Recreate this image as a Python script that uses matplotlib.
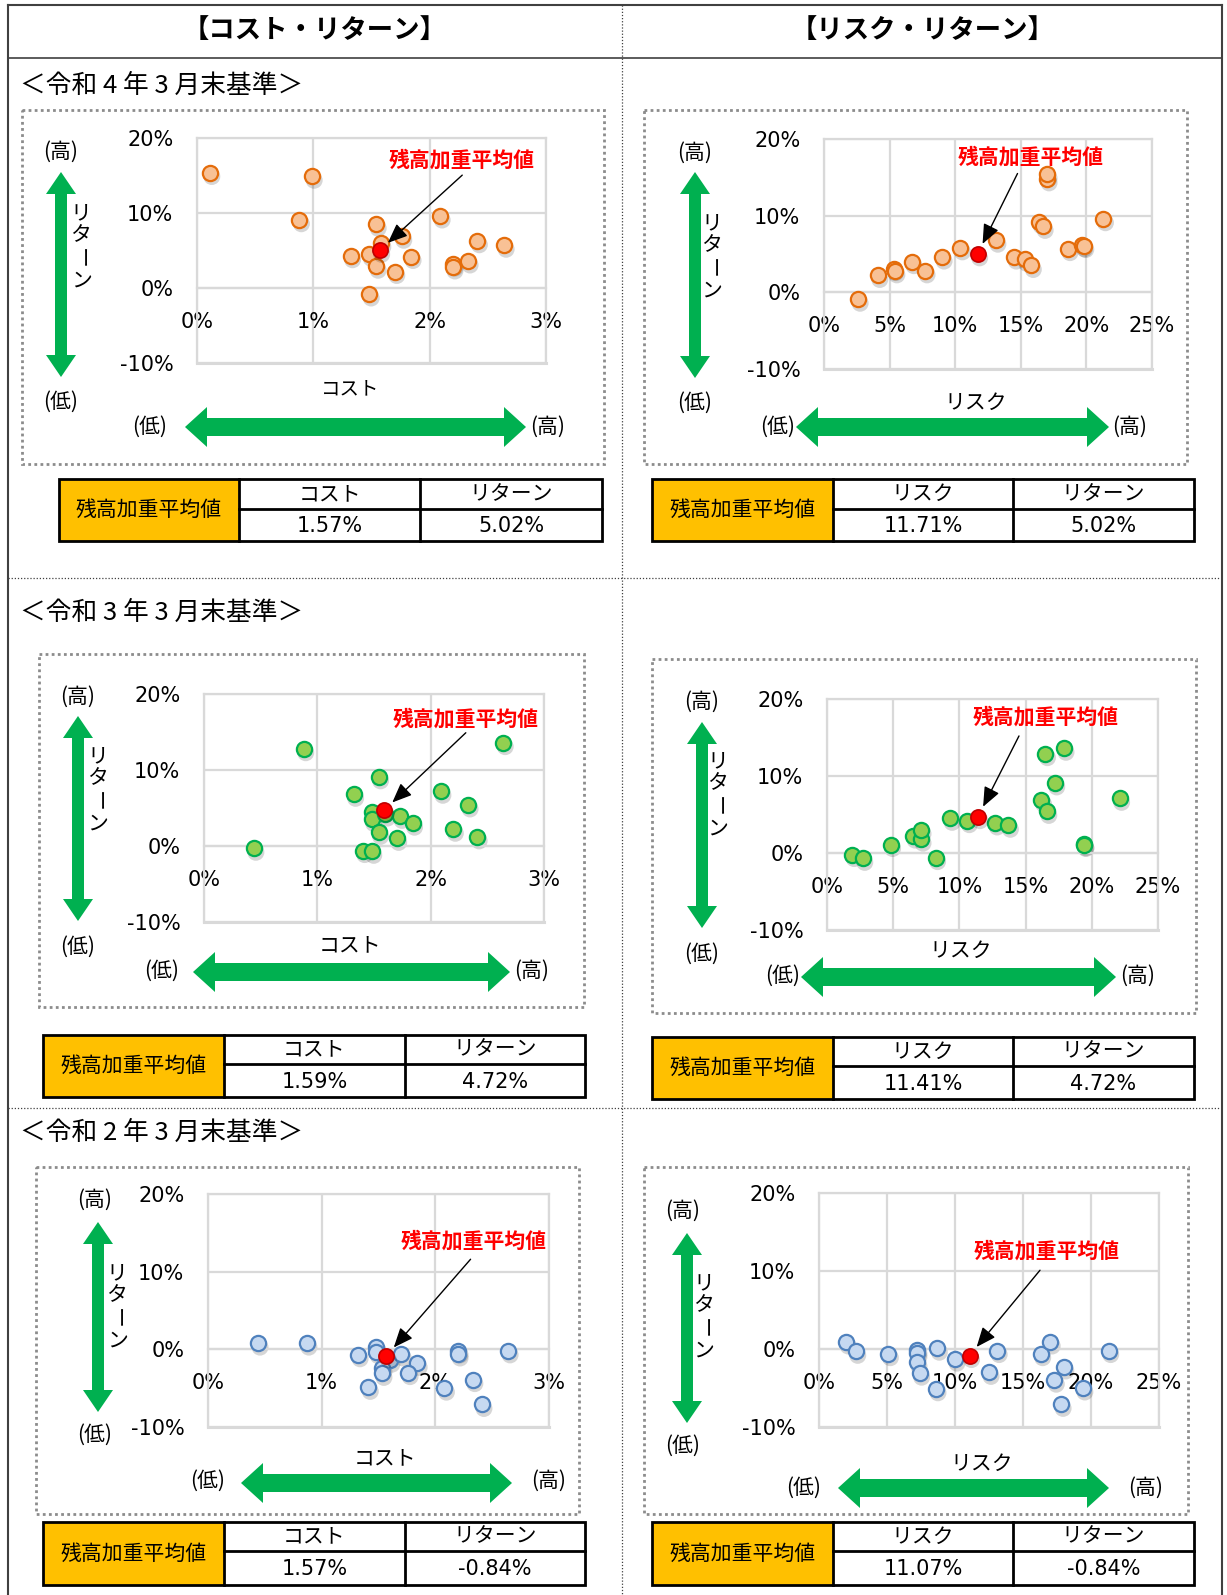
import matplotlib
matplotlib.use("Agg")
import matplotlib.pyplot as plt
from matplotlib.patches import Rectangle, Polygon
from matplotlib.transforms import offset_copy

plt.rcParams['font.family'] = ['DejaVu Sans', 'Noto Sans CJK JP']
JP = ['Noto Sans CJK JP', 'DejaVu Sans']

# ---------------- data ----------------
header_titles = ['【コスト・リターン】', '【リスク・リターン】']
section_titles = ['＜令和 4 年 3 月末基準＞', '＜令和 3 年 3 月末基準＞', '＜令和 2 年 3 月末基準＞']

cost_ticks = ['0%', '1%', '2%', '3%']
risk_ticks = ['0%', '5%', '10%', '15%', '20%', '25%']
ret_ticks = ['-10%', '0%', '10%', '20%']

# R4 (令和4年3月末)
r4_cost = [0.11, 0.99, 0.88, 1.54, 2.09, 1.76, 1.58, 1.48, 1.32, 1.54, 1.70, 1.84, 2.20, 2.20, 2.33, 2.41, 2.64, 1.48]
r4_cost_ret = [15.4, 14.9, 9.1, 8.5, 9.6, 6.9, 6.0, 4.5, 4.3, 2.9, 2.2, 4.2, 3.2, 2.8, 3.6, 6.3, 5.7, -0.8]
r4_risk = [2.6, 4.1, 5.3, 5.4, 6.7, 7.7, 9.0, 10.4, 13.1, 14.5, 15.3, 15.8, 16.4, 16.7, 17.0, 17.0, 18.6, 19.7, 19.8, 21.3]
r4_risk_ret = [-0.9, 2.2, 3.1, 2.8, 4.0, 2.8, 4.6, 5.8, 6.8, 4.6, 4.3, 3.5, 9.2, 8.6, 14.8, 15.4, 5.7, 6.2, 6.1, 9.6]
r4_avg_cost, r4_avg_risk, r4_avg_ret = 1.57, 11.71, 5.02

# R3 (令和3年3月末)
r3_cost = [0.88, 2.64, 1.54, 1.32, 2.09, 2.33, 1.48, 1.48, 1.60, 1.73, 1.84, 1.54, 1.70, 2.20, 2.41, 0.44, 1.40, 1.48]
r3_cost_ret = [12.8, 13.6, 9.1, 6.8, 7.2, 5.4, 4.5, 3.5, 4.2, 3.9, 3.0, 1.8, 1.0, 2.2, 1.2, -0.3, -0.6, -0.7]
r3_risk = [1.9, 2.7, 4.8, 6.5, 7.1, 7.1, 8.2, 9.3, 10.6, 12.7, 13.7, 16.5, 17.9, 17.2, 16.2, 16.6, 19.4, 19.4, 22.1]
r3_risk_ret = [-0.2, -0.7, 1.1, 2.2, 1.8, 3.0, -0.6, 4.5, 4.2, 3.9, 3.6, 12.9, 13.6, 9.1, 6.9, 5.4, 1.2, 1.1, 7.1]
r3_avg_cost, r3_avg_risk, r3_avg_ret = 1.59, 11.41, 4.72

# R2 (令和2年3月末)
r2_cost = [0.44, 0.87, 1.32, 1.48, 1.48, 1.60, 1.70, 1.53, 1.53, 1.84, 1.76, 1.41, 2.08, 2.20, 2.20, 2.33, 2.64, 2.41]
r2_cost_ret = [0.8, 0.8, -0.7, 0.3, -0.3, -1.4, -0.6, -2.4, -3.1, -1.8, -3.0, -4.9, -5.0, -0.2, -0.6, -3.9, -0.2, -7.1]
r2_risk = [2.0, 2.7, 5.1, 7.2, 7.2, 7.2, 7.4, 8.7, 8.6, 10.0, 12.5, 13.1, 16.3, 17.0, 18.0, 17.3, 19.4, 21.3, 17.8]
r2_risk_ret = [0.9, -0.3, -0.6, -0.1, -0.5, -1.7, -3.1, 0.1, -5.1, -1.3, -3.0, -0.2, -0.6, 0.9, -2.3, -4.0, -5.0, -0.2, -7.1]
r2_avg_cost, r2_avg_risk, r2_avg_ret = 1.57, 11.07, -0.84

avg_label = '残高加重平均値'

# ---------------- figure ----------------
W, H = 1227, 1595
fig = plt.figure(figsize=(W / 100, H / 100), dpi=100)
bg = fig.add_axes([0, 0, 1, 1])
bg.set_xlim(0, W)
bg.set_ylim(H, 0)
bg.axis('off')

GREEN = '#00B050'
GRID = '#D9D9D9'

# outer frame & dividers
bg.plot([8, 1222], [5, 5], color='#404040', lw=1.5)
bg.plot([8, 8], [5, H], color='#404040', lw=1.5)
bg.plot([1222, 1222], [5, H], color='#404040', lw=1.5)
bg.plot([8, 1222], [58, 58], color='#404040', lw=1.2)
bg.plot([622, 622], [5, H], color='#404040', lw=0.9, ls=(0, (1, 1.5)))
for yy in (578, 1108):
    bg.plot([8, 1222], [yy, yy], color='#404040', lw=0.9, ls=(0, (1, 1.5)))

bg.text(315, 30, header_titles[0], ha='center', va='center', fontsize=19, fontweight='bold', family=JP)
bg.text(923, 30, header_titles[1], ha='center', va='center', fontsize=19, fontweight='bold', family=JP)

for ty, t in zip((86, 613, 1133), section_titles):
    bg.text(20, ty, t, ha='left', va='center', fontsize=18.5, family=JP)


def dotted_box(x0, y0, x1, y1):
    bg.add_patch(Rectangle((x0, y0), x1 - x0, y1 - y0, fill=False, ec='#8C8C8C',
                           lw=2, ls=(0, (1, 1.2))))


def h_arrow(x0, x1, y, hs=9, hh=20, hl=22):
    pts = [(x0, y), (x0 + hl, y - hh), (x0 + hl, y - hs), (x1 - hl, y - hs), (x1 - hl, y - hh),
           (x1, y), (x1 - hl, y + hh), (x1 - hl, y + hs), (x0 + hl, y + hs), (x0 + hl, y + hh)]
    bg.add_patch(Polygon(pts, closed=True, fc=GREEN, ec='none'))


def v_arrow(x, y0, y1, hs=6, hh=15, hl=22):
    pts = [(x, y0), (x + hh, y0 + hl), (x + hs, y0 + hl), (x + hs, y1 - hl), (x + hh, y1 - hl),
           (x, y1), (x - hh, y1 - hl), (x - hs, y1 - hl), (x - hs, y0 + hl), (x - hh, y0 + hl)]
    bg.add_patch(Polygon(pts, closed=True, fc=GREEN, ec='none'))


def v_text(x, y0, step=22.5):
    chars = ['リ', 'タ', 'ー', 'ン']
    for i, c in enumerate(chars):
        rot = -90 if c == 'ー' else 0
        bg.text(x, y0 + i * step, c, ha='center', va='center', fontsize=15, rotation=rot, family=JP)


def label(x, y, s, size=15):
    bg.text(x, y, s, ha='center', va='center', fontsize=size, family=JP)


def table(x0, y0, x1, y1, ysplit, c1, c2, col_names, values):
    bg.add_patch(Rectangle((x0, y0), c1 - x0, y1 - y0, fc='#FFC000', ec='none'))
    bg.add_patch(Rectangle((x0, y0), x1 - x0, y1 - y0, fill=False, ec='black', lw=2))
    bg.plot([c1, c1], [y0, y1], color='black', lw=2)
    bg.plot([c2, c2], [y0, y1], color='black', lw=2)
    bg.plot([c1, x1], [ysplit, ysplit], color='black', lw=2)
    label((x0 + c1) / 2, (y0 + y1) / 2, avg_label)
    label((c1 + c2) / 2, (y0 + ysplit) / 2, col_names[0])
    label((c2 + x1) / 2, (y0 + ysplit) / 2, col_names[1])
    bg.text((c1 + c2) / 2, (ysplit + y1) / 2 + 1, values[0], ha='center', va='center', fontsize=15)
    bg.text((c2 + x1) / 2, (ysplit + y1) / 2 + 1, values[1], ha='center', va='center', fontsize=15)


def scatter_panel(box, xmax, xstep, xlabels, xs, ys, ax_avg, ay_avg, fc, ec, lab_pos, tail_pos):
    x0, x1, yt, yb = box
    ax = fig.add_axes([x0 / W, 1 - yb / H, (x1 - x0) / W, (yb - yt) / H])
    ax.set_xlim(0, xmax)
    ax.set_ylim(-10, 20)
    ax.set_xticks([i * xstep for i in range(len(xlabels))])
    ax.set_xticklabels(xlabels)
    ax.set_yticks([-10, 0, 10, 20])
    ax.set_yticklabels(ret_ticks)
    ax.grid(True, color=GRID, lw=1.6)
    ax.set_axisbelow(True)
    ax.spines['bottom'].set_position(('data', 0))
    for s in ax.spines.values():
        s.set_color(GRID)
        s.set_linewidth(1.6)
    ax.axhline(-10, color=GRID, lw=2.2, clip_on=False, zorder=0.5)
    ax.tick_params(axis='x', length=0, pad=17, labelsize=15)
    ax.tick_params(axis='y', length=0, pad=17, labelsize=15)
    for t in ax.get_xticklabels() + ax.get_yticklabels():
        t.set_zorder(5)
    sh = offset_copy(ax.transData, fig=fig, x=2, y=-4, units='dots')
    ax.scatter(xs, ys, s=150, c='black', alpha=0.16, edgecolors='none', transform=sh, zorder=2, clip_on=False)
    ax.scatter(xs, ys, s=120, c=fc, edgecolors=ec, linewidths=1.6, zorder=3, clip_on=False)
    ax.scatter([ax_avg], [ay_avg], s=150, c='black', alpha=0.16, edgecolors='none', transform=sh, zorder=3.5)
    ax.scatter([ax_avg], [ay_avg], s=120, c='#FF0000', edgecolors='#C00000', linewidths=1.2, zorder=4)
    ax.text(lab_pos[0], lab_pos[1], avg_label, transform=ax.transAxes, ha='center', va='center',
            color='#FF0000', fontsize=15, fontweight='bold', zorder=6, family=JP)
    ax.annotate('', xy=(ax_avg, ay_avg), xycoords='data', xytext=tail_pos, textcoords='axes fraction',
                arrowprops=dict(arrowstyle='-|>,head_length=1.2,head_width=0.5', color='black',
                                lw=1, shrinkA=0, shrinkB=8), zorder=6)
    return ax


ORANGE = ('#F8C195', '#E46C0A')
GREENP = ('#92D050', '#00B050')
BLUE = ('#C6D9F1', '#4F81BD')

# ---------- Section 1 ----------
dotted_box(22, 110, 604, 464)
label(61, 152, '(高)')
label(61, 402, '(低)')
v_arrow(61, 172, 377)
v_text(81, 213)
label(350, 389, 'コスト', 14)
h_arrow(185, 526, 427)
label(150, 427, '(低)')
label(548, 427, '(高)')
scatter_panel((197, 546, 138, 363), 3, 1, cost_ticks, r4_cost, r4_cost_ret, r4_avg_cost, r4_avg_ret,
              *ORANGE, (0.76, 0.90), (0.76, 0.835))
table(59, 479, 602, 541, 509, 239, 420, ['コスト', 'リターン'], ['1.57%', '5.02%'])

dotted_box(644, 110, 1187, 464)
label(695, 153, '(高)')
label(695, 403, '(低)')
v_arrow(695, 172, 378)
v_text(712, 223)
label(976, 403, 'リスク')
h_arrow(796, 1109, 427)
label(778, 427, '(低)')
label(1130, 427, '(高)')
scatter_panel((824, 1152, 139, 369), 25, 5, risk_ticks, r4_risk, r4_risk_ret, r4_avg_risk, r4_avg_ret,
              *ORANGE, (0.63, 0.92), (0.59, 0.85))
table(652, 479, 1194, 541, 509, 833, 1013, ['リスク', 'リターン'], ['11.71%', '5.02%'])

# ---------- Section 2 ----------
dotted_box(39, 654, 584, 1007)
label(78, 697, '(高)')
label(78, 947, '(低)')
v_arrow(78, 716, 921)
v_text(98, 756)
label(350, 945, 'コスト')
h_arrow(193, 510, 972)
label(162, 971, '(低)')
label(532, 971, '(高)')
scatter_panel((204, 544, 694, 922), 3, 1, cost_ticks, r3_cost, r3_cost_ret, r3_avg_cost, r3_avg_ret,
              *GREENP, (0.77, 0.89), (0.77, 0.83))
table(43, 1035, 585, 1097, 1064, 224, 405, ['コスト', 'リターン'], ['1.59%', '4.72%'])

dotted_box(652, 659, 1196, 1013)
label(702, 702, '(高)')
label(702, 954, '(低)')
v_arrow(702, 722, 928)
v_text(718, 761)
label(961, 951, 'リスク')
h_arrow(801, 1116, 977)
label(783, 976, '(低)')
label(1138, 976, '(高)')
scatter_panel((827, 1158, 699, 930), 25, 5, risk_ticks, r3_risk, r3_risk_ret, r3_avg_risk, r3_avg_ret,
              *GREENP, (0.66, 0.92), (0.58, 0.84))
table(652, 1037, 1194, 1099, 1066, 833, 1013, ['リスク', 'リターン'], ['11.41%', '4.72%'])

# ---------- Section 3 ----------
dotted_box(36, 1167, 579, 1514)
label(95, 1200, '(高)')
label(95, 1435, '(低)')
v_arrow(98, 1222, 1412)
v_text(117, 1273)
label(385, 1458, 'コスト')
h_arrow(241, 512, 1483)
label(208, 1481, '(低)')
label(549, 1481, '(高)')
scatter_panel((208, 549, 1194, 1427), 3, 1, cost_ticks, r2_cost, r2_cost_ret, r2_avg_cost, r2_avg_ret,
              *BLUE, (0.78, 0.80), (0.77, 0.72))
table(43, 1522, 585, 1585, 1551, 224, 405, ['コスト', 'リターン'], ['1.57%', '-0.84%'])

dotted_box(644, 1167, 1188, 1514)
label(683, 1211, '(高)')
label(683, 1446, '(低)')
v_arrow(687, 1233, 1423)
v_text(704, 1283)
label(982, 1464, 'リスク')
h_arrow(838, 1109, 1488)
label(804, 1488, '(低)')
label(1146, 1488, '(高)')
scatter_panel((819, 1159, 1193, 1427), 25, 5, risk_ticks, r2_risk, r2_risk_ret, r2_avg_risk, r2_avg_ret,
              *BLUE, (0.67, 0.75), (0.65, 0.67))
table(652, 1522, 1194, 1585, 1551, 833, 1013, ['リスク', 'リターン'], ['11.07%', '-0.84%'])

fig.savefig('out.png', dpi=100)
